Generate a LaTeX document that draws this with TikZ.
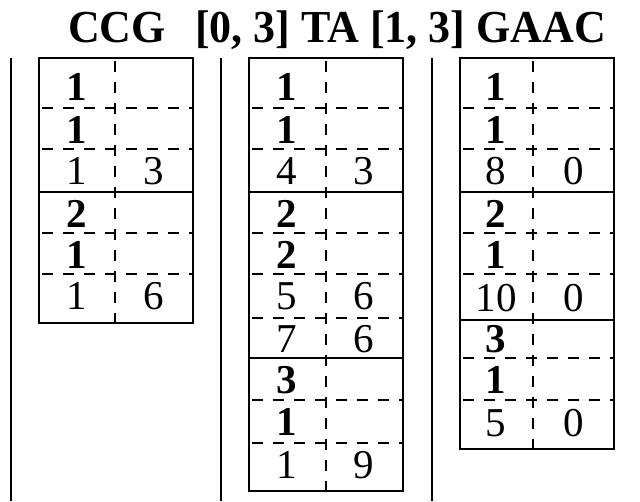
\documentclass[tikz,border=0pt]{standalone}
\usepackage{fontspec}
\setmainfont{Liberation Serif}
\begin{document}
\begin{tikzpicture}[x=1pt,y=-1pt,
  frame/.style={line width=1.8pt},
  solidsep/.style={line width=1.6pt},
  dashsep/.style={line width=1.2pt, dash pattern=on 11pt off 10pt, dash phase=18pt},
  vsep/.style={line width=1.5pt},
  cellb/.style={anchor=base, inner sep=0pt, font=\fontsize{41}{48}\selectfont\bfseries},
  cellr/.style={anchor=base, inner sep=0pt, font=\fontsize{41}{48}\selectfont},
  titletext/.style={anchor=base west, inner sep=0pt, font=\fontsize{44}{52}\selectfont\bfseries}]
\useasboundingbox (0,0) rectangle (640,501);
% title
\node[titletext, yscale=1.04] (t1) at (68,42) {CCG};
\node[titletext, yscale=1.04] (t2) at (195,42) {[0, 3] TA [1, 3] GAAC};
% long vertical separators
\coordinate (s1a) at (11,58);  \coordinate (s1b) at (11,501);
\coordinate (s2a) at (221,58); \coordinate (s2b) at (221,501);
\coordinate (s3a) at (432,58); \coordinate (s3b) at (432,501);
\draw[vsep] (s1a) -- (s1b);
\draw[vsep] (s2a) -- (s2b);
\draw[vsep] (s3a) -- (s3b);
% ---------- table 1 ----------
\draw[dashsep] (115,58) -- (115,323);
\foreach \y in {108,149,233,274} \draw[dashsep] (39,\y) -- (193,\y);
\draw[solidsep] (39,192) -- (193,192);
\draw[frame] (39,58) rectangle (193,323);
\node[cellb] (a1) at (77,100) {1};
\node[cellb] (a2) at (77,143) {1};
\node[cellr] (a3) at (77,184) {1};
\node[cellr] (a3r) at (154,184) {3};
\node[cellb] (a4) at (77,227) {2};
\node[cellb] (a5) at (77,268) {1};
\node[cellr] (a6) at (77,309) {1};
\node[cellr] (a6r) at (154,309) {6};
% ---------- table 2 ----------
\draw[dashsep] (326,58) -- (326,491);
\foreach \y in {108,149,233,274,318,400,443} \draw[dashsep] (249,\y) -- (403,\y);
\draw[solidsep] (249,192) -- (403,192);
\draw[solidsep] (249,358) -- (403,358);
\draw[frame] (249,58) rectangle (403,491);
\node[cellb] (b1) at (287,100) {1};
\node[cellb] (b2) at (287,143) {1};
\node[cellr] (b3) at (287,184) {4};
\node[cellr] (b3r) at (364,184) {3};
\node[cellb] (b4) at (287,227) {2};
\node[cellb] (b5) at (287,268) {2};
\node[cellr] (b6) at (287,309) {5};
\node[cellr] (b6r) at (364,309) {6};
\node[cellr] (b7) at (287,352) {7};
\node[cellr] (b7r) at (364,352) {6};
\node[cellb] (b8) at (287,393) {3};
\node[cellb] (b9) at (287,435) {1};
\node[cellr] (b10) at (287,478) {1};
\node[cellr] (b10r) at (364,478) {9};
% ---------- table 3 ----------
\draw[dashsep] (533,58) -- (533,449);
\foreach \y in {108,149,233,274,358,400} \draw[dashsep] (460,\y) -- (614,\y);
\draw[solidsep] (460,192) -- (614,192);
\draw[solidsep] (460,320) -- (614,320);
\draw[frame] (460,58) rectangle (614,449);
\node[cellb] (c1) at (496,100) {1};
\node[cellb] (c2) at (496,143) {1};
\node[cellr] (c3) at (496,184) {8};
\node[cellr] (c3r) at (574,184) {0};
\node[cellb] (c4) at (496,227) {2};
\node[cellb] (c5) at (496,268) {1};
\node[cellr] (c6) at (496,311) {10};
\node[cellr] (c6r) at (574,311) {0};
\node[cellb] (c7) at (496,352) {3};
\node[cellb] (c8) at (496,393) {1};
\node[cellr] (c9) at (496,436) {5};
\node[cellr] (c9r) at (574,436) {0};
\end{tikzpicture}
\end{document}
